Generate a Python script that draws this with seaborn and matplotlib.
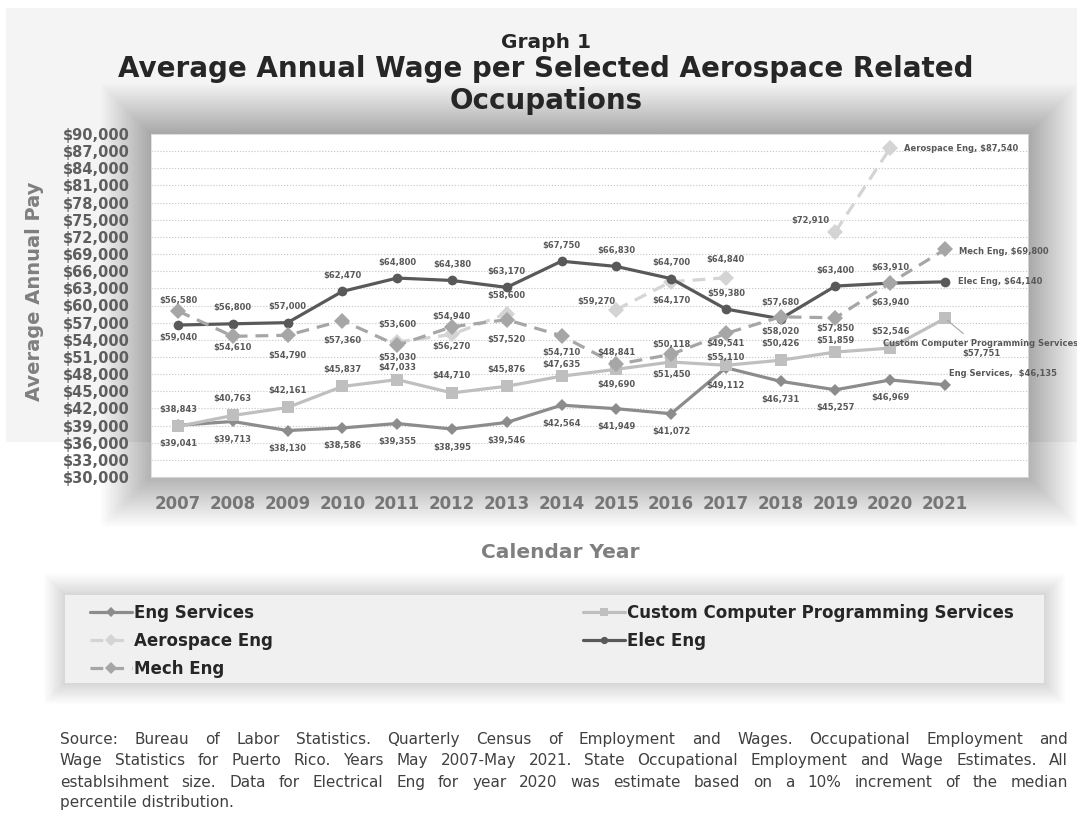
import numpy as np
import pandas as pd
import matplotlib
matplotlib.use("Agg")
import matplotlib.pyplot as plt
from matplotlib.patches import Rectangle
from matplotlib.lines import Line2D
import seaborn as sns

# ---- data ----
years = list(range(2007, 2022))
eng_services = [39041, 39713, 38130, 38586, 39355, 38395, 39546, 42564,
                41949, 41072, 49112, 46731, 45257, 46969, 46135]
custom_prog = [38843, 40763, 42161, 45837, 47033, 44710, 45876, 47635,
               48841, 50118, 49541, 50426, 51859, 52546, 57751]
aerospace = [np.nan, np.nan, np.nan, np.nan, 53600, 54940, 58600, np.nan,
             59270, 64170, 64840, np.nan, 72910, 87540, np.nan]
elec_eng = [56580, 56800, 57000, 62470, 64800, 64380, 63170, 67750,
            66830, 64700, 59380, 57680, 63400, 63910, 64140]
mech_eng = [59040, 54610, 54790, 57360, 53030, 56270, 57520, 54710,
            49690, 51450, 55110, 58020, 57850, 63940, 69800]

y_ticks = list(range(30000, 90001, 3000))

W, H = 1077, 814
sns.set_theme(style="white")
plt.rcParams['font.family'] = ['DejaVu Sans']

fig = plt.figure(figsize=(W / 100, H / 100), dpi=100)
fig.patch.set_facecolor('white')


def fig_rect(x0, y0, x1, y1, **kw):
    # pixel box (top-left origin) -> figure rectangle
    r = Rectangle((x0 / W, 1 - y1 / H), (x1 - x0) / W, (y1 - y0) / H,
                  transform=fig.transFigure, lw=0, **kw)
    fig.patches.append(r)
    return r


# background card + soft shadows
fig_rect(6, 8, W, 442, fc='#f4f4f4', zorder=-30)
for i in range(26):
    p = i * 2
    fig_rect(151 - p, 134 - p, 1028 + p, 477 + p, fc='black', alpha=0.011, zorder=-20)
for i in range(14):
    p = i * 1.6
    fig_rect(65 - p, 595 - p, 1044 + p, 683 + p, fc='black', alpha=0.011, zorder=-20)
fig_rect(65, 595, 1044, 683, fc='#f0f0f0', zorder=-10)

ax = fig.add_axes([151 / W, 1 - 477 / H, (1028 - 151) / W, (477 - 134) / H])
ax.set_facecolor('white')

series = [
    ("Eng Services", eng_services, "#8c8c8c", "D", "-", 6.5),
    ("Custom Computer Programming Services", custom_prog, "#bfbfbf", "s", "-", 8),
    ("Aerospace Eng", aerospace, "#d4d4d4", "D", (0, (4, 2.5)), 8),
    ("Elec Eng", elec_eng, "#595959", "o", "-", 7),
    ("Mech Eng", mech_eng, "#a6a6a6", "D", (0, (4, 2.5)), 8),
]

for name, vals, color, marker, ls, ms in series:
    d = pd.DataFrame({"Year": years, "Wage": vals})
    d["seg"] = d["Wage"].isna().cumsum()  # break the line at gaps
    d = d.dropna()
    sns.lineplot(data=d, x="Year", y="Wage", units="seg", estimator=None,
                 color=color, marker=marker, markersize=ms, linestyle=ls,
                 linewidth=2.3, markeredgewidth=0, legend=False, ax=ax)

# data labels: default pixel offsets and a few hand placements
default_off = {"Eng Services": (0, -18), "Custom Computer Programming Services": (0, 17),
               "Aerospace Eng": (0, 18), "Elec Eng": (0, 16), "Mech Eng": (0, -20)}
special_off = {
    ("Elec Eng", 2007): (0, 25), ("Mech Eng", 2007): (0, -27),
    ("Mech Eng", 2008): (0, -11), ("Mech Eng", 2011): (0, -12),
    ("Custom Computer Programming Services", 2011): (0, 12),
    ("Mech Eng", 2014): (0, -17),
    ("Custom Computer Programming Services", 2014): (0, 12),
    ("Custom Computer Programming Services", 2017): (0, 22),
    ("Mech Eng", 2017): (0, -24), ("Mech Eng", 2018): (0, -15),
    ("Mech Eng", 2019): (0, -11),
    ("Custom Computer Programming Services", 2019): (0, 12),
    ("Aerospace Eng", 2015): (-20, 8), ("Aerospace Eng", 2016): (0, -19),
    ("Aerospace Eng", 2019): (-25, 11),
}
end_text = {
    "Eng Services": ("Eng Services,  ${:,.0f}", (4, 11), 'left'),
    "Custom Computer Programming Services": ("Custom Computer Programming Services\n${:,.0f}", (36, -30), 'center'),
    "Aerospace Eng": ("Aerospace Eng, ${:,.0f}", (14, 0), 'left'),
    "Elec Eng": ("Elec Eng, ${:,.0f}", (13, 0), 'left'),
    "Mech Eng": ("Mech Eng, ${:,.0f}", (14, -2), 'left'),
}
lab_kw = dict(fontsize=6, fontweight='bold', color='#595959', va='center',
              textcoords='offset pixels', annotation_clip=False)

for name, vals, color, marker, ls, ms in series:
    valid = [i for i, v in enumerate(vals) if not np.isnan(v)]
    for i in valid:
        yr, v = years[i], vals[i]
        if i == valid[-1]:
            fmt, off, ha = end_text[name]
            arrow = None
            if name.startswith("Custom"):
                arrow = dict(arrowstyle='-', color='#a6a6a6', lw=0.8, shrinkA=2, shrinkB=2)
            ax.annotate(fmt.format(v), (yr, v), xytext=off, ha=ha,
                        multialignment='center', arrowprops=arrow, **lab_kw)
        else:
            off = special_off.get((name, yr), default_off[name])
            ax.annotate(f"${v:,.0f}", (yr, v), xytext=off, ha='center', **lab_kw)

ax.set_xlim(2006.507, 2022.515)
ax.set_ylim(30000, 90000)
ax.set_xticks(years)
ax.set_xticklabels([str(y) for y in years])
ax.set_yticks(y_ticks)
ax.set_yticklabels([f"${v:,}" for v in y_ticks])
ax.yaxis.grid(True, linestyle=':', color='#c4c4c4', linewidth=0.8)
ax.xaxis.grid(False)
ax.set_axisbelow(True)
for s in ax.spines.values():
    s.set_color('#dcdcdc')
    s.set_linewidth(0.6)
ax.tick_params(axis='y', length=0, pad=15.5, labelsize=10.5, labelcolor='#5e5e5e')
ax.tick_params(axis='x', length=0, pad=13, labelsize=12, labelcolor='#767676')
for t in ax.get_xticklabels() + ax.get_yticklabels():
    t.set_fontweight('bold')
ax.set_xlabel("")
ax.set_ylabel("")

# titles and axis titles
fig.text(546 / W, 1 - 42 / H, "Graph 1", ha='center', va='center',
         fontsize=14.5, fontweight='bold', color='#262626')
fig.text(546 / W, 1 - 85 / H, "Average Annual Wage per Selected Aerospace Related\nOccupations",
         ha='center', va='center', fontsize=20, fontweight='bold', color='#262626',
         linespacing=1.18)
fig.text(35 / W, 1 - 291 / H, "Average Annual Pay", rotation=90, ha='center',
         va='center', fontsize=14, fontweight='bold', color='#7f7f7f')
fig.text(560 / W, 1 - 552 / H, "Calendar Year", ha='center', va='center',
         fontsize=14.5, fontweight='bold', color='#7f7f7f')

# legend in two columns inside the grey box
handles = {}
for name, vals, color, marker, ls, ms in series:
    handles[name] = Line2D([], [], color=color, marker=marker, markersize=ms * 0.75,
                           linestyle=ls, linewidth=2.3, markeredgewidth=0)
leg_kw = dict(loc='upper left', frameon=False, fontsize=12, handlelength=2.5,
              handletextpad=0.15, labelspacing=0.6, borderpad=0, borderaxespad=0,
              bbox_transform=fig.transFigure)
col1 = ["Eng Services", "Aerospace Eng", "Mech Eng"]
col2 = ["Custom Computer Programming Services", "Elec Eng"]
leg1 = fig.legend([handles[n] for n in col1], col1,
                  bbox_to_anchor=(90 / W, 1 - 604 / H), **leg_kw)
leg2 = fig.legend([handles[n] for n in col2], col2,
                  bbox_to_anchor=(583 / W, 1 - 604 / H), **leg_kw)
for lg in (leg1, leg2):
    for t in lg.get_texts():
        t.set_fontweight('bold')
        t.set_color('#262626')

# source note, justified like the original
source_lines = [
    "Source:  Bureau of Labor Statistics. Quarterly Census of Employment and Wages.  Occupational Employment and",
    "Wage Statistics for Puerto Rico.  Years May 2007-May 2021.  State Occupational Employment and Wage Estimates. All",
    "establsihment size.  Data for Electrical Eng for year 2020 was estimate based on a 10% increment of the median",
    "percentile distribution.",
]
line_y = [744, 765, 787, 807]  # baselines
renderer = fig.canvas.get_renderer()
src_kw = dict(fontsize=11, color='#404040', va='baseline', ha='left')
for k, (line, yy) in enumerate(zip(source_lines, line_y)):
    if k == len(source_lines) - 1:
        fig.text(60 / W, 1 - yy / H, line, **src_kw)
        continue
    words = line.split()
    arts = [fig.text(0, 1 - yy / H, w, **src_kw) for w in words]
    widths = [a.get_window_extent(renderer).width for a in arts]
    gap = (1068 - 60 - sum(widths)) / (len(words) - 1)
    x = 60
    for a, w in zip(arts, widths):
        a.set_x(x / W)
        x += w + gap

fig.savefig("out.png", dpi=100, facecolor=fig.get_facecolor())
